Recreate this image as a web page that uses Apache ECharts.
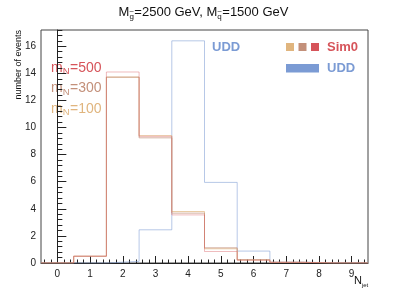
<!DOCTYPE html>
<html><head><meta charset="utf-8">
<script src="https://cdn.jsdelivr.net/npm/echarts@6/dist/echarts.min.js"></script>
<style>html,body{margin:0;padding:0;background:#fff}#c{width:409px;height:293px}</style>
</head><body><div id="c"></div>
<script>
// bin centres (N_jet)
var binCenters = [0, 1, 2, 3, 4, 5, 6, 7, 8, 9];
var xTickLabels = ['0','1','2','3','4','5','6','7','8','9'];
var yTickLabels = ['0','2','4','6','8','10','12','14','16'];
// Sim0 samples
var sim0_m500 = [0, 0.5, 14.1, 9.35, 3.55, 0.85, 0.2, 0.05, 0, 0];
var sim0_m300 = [0, 0.5, 13.72, 9.24, 3.68, 1.12, 0.25, 0.05, 0, 0];
var sim0_m100 = [0, 0.5, 13.72, 9.4, 3.8, 1.05, 0.22, 0.05, 0, 0];
// UDD sample
var udd = [0, 0, 0.12, 2.45, 16.4, 5.95, 0.88, 0.06, 0.02, 0];

var binWidth = 1;
function toSteps(vals) {
  var pts = [];
  for (var i = 0; i < vals.length; i++) pts.push([binCenters[i] - binWidth / 2, vals[i]]);
  pts.push([binCenters[vals.length - 1] + binWidth / 2, vals[vals.length - 1]]);
  return pts;
}
function range(a, b, s) { var r = []; for (var v = a; v <= b + 1e-9; v += s) r.push(Math.round(v * 1000) / 1000); return r; }

var colRed = '#d6545a', colBrown = '#c3907a', colTan = '#e0b57e', colBlue = '#7b9bd4';
var fontF = '"Liberation Sans", Arial, Helvetica, sans-serif';

var mctx = document.createElement('canvas').getContext('2d');
function measure(t, size, weight) { mctx.font = (weight || 'normal') + ' ' + size + 'px ' + fontF; return mctx.measureText(t).width; }
// segments: [text, isSub, tilde]
function richLabel(segs, x, yMid, size, subSize, color, weight, centered, subOff) {
  var total = 0, ws = [];
  segs.forEach(function (s) { var w = measure(s[0], s[1] ? subSize : size, weight); ws.push(w); total += w; });
  var cx = centered ? x - total / 2 : x;
  var out = [];
  segs.forEach(function (s, i) {
    var fs = s[1] ? subSize : size;
    var yy = s[1] ? yMid + subOff : yMid;
    out.push({type: 'text', x: cx, y: yy, style: {text: s[0], fontSize: fs, fontWeight: weight || 'normal', fontFamily: fontF, fill: color, verticalAlign: 'middle'}});
    if (s[2]) out.push({type: 'text', x: cx + ws[i] / 2, y: yy - fs * 0.62, style: {text: '~', fontSize: fs, fontFamily: fontF, fill: color, align: 'center', verticalAlign: 'middle'}});
    cx += ws[i] + (s[1] ? 0.5 : 0);
  });
  return out;
}

var chart = echarts.init(document.getElementById('c'), null, {renderer: 'canvas'});
var xMin = -0.5, xMax = 9.5, yMin = 0, yMax = 17.2;
var baseX = {type: 'value', min: xMin, max: xMax, position: 'bottom', splitLine: {show: false}};
var baseY = {type: 'value', min: yMin, max: yMax, position: 'left', splitLine: {show: false}};

var graphics = [];
graphics = graphics.concat(richLabel([['M'], ['g', true, true], ['=2500 GeV, M'], ['q', true, true], ['=1500 GeV']], 203, 12, 13, 8, '#111', 'normal', true, 5));
graphics.push({type: 'text', x: 14, y: 30, rotation: Math.PI / 2, style: {text: 'number of events', fontSize: 9, fontFamily: fontF, fill: '#111', align: 'right', verticalAlign: 'top'}});
graphics = graphics.concat(richLabel([['N'], ['jet', true]], 354, 281, 11, 6, '#111', 'normal', false, 4.5));
graphics = graphics.concat(richLabel([['m'], ['N', true], ['=500']], 51, 68, 14, 9.5, colRed, 'normal', false, 3.5));
graphics = graphics.concat(richLabel([['m'], ['N', true], ['=300']], 51, 88.5, 14, 9.5, colBrown, 'normal', false, 3.5));
graphics = graphics.concat(richLabel([['m'], ['N', true], ['=100']], 51, 109, 14, 9.5, colTan, 'normal', false, 3.5));
graphics.push(
  {type: 'text', x: 212, y: 47.5, style: {text: 'UDD', fontSize: 13, fontWeight: 'bold', fontFamily: fontF, fill: colBlue, verticalAlign: 'middle'}},
  {type: 'rect', shape: {x: 286, y: 43, width: 8, height: 8}, style: {fill: colTan}},
  {type: 'rect', shape: {x: 298.5, y: 43, width: 8, height: 8}, style: {fill: colBrown}},
  {type: 'rect', shape: {x: 311, y: 43, width: 8, height: 8}, style: {fill: colRed}},
  {type: 'text', x: 327, y: 47.5, style: {text: 'Sim0', fontSize: 13, fontWeight: 'bold', fontFamily: fontF, fill: colRed, verticalAlign: 'middle'}},
  {type: 'rect', shape: {x: 286, y: 64, width: 33, height: 8.5}, style: {fill: colBlue}},
  {type: 'text', x: 327, y: 68.5, style: {text: 'UDD', fontSize: 13, fontWeight: 'bold', fontFamily: fontF, fill: colBlue, verticalAlign: 'middle'}}
);

chart.setOption({
  animation: false,
  grid: {left: 41, right: 41, top: 30, bottom: 30, show: true, borderColor: '#444', borderWidth: 1, backgroundColor: 'transparent'},
  xAxis: [
    Object.assign({}, baseX, {
      axisLine: {show: true, lineStyle: {color: '#222', width: 1}},
      axisTick: {show: true, inside: true, length: 7, customValues: binCenters, lineStyle: {color: '#222'}},
      axisLabel: {show: true, customValues: binCenters, formatter: function (v) { return xTickLabels[binCenters.indexOf(Math.round(v))]; }, fontFamily: fontF, fontSize: 10, color: '#222', margin: 6}
    }),
    Object.assign({}, baseX, {
      axisLine: {show: false},
      axisTick: {show: true, inside: true, length: 3.5, customValues: range(-0.4, 9.4, 0.2), lineStyle: {color: '#222'}},
      axisLabel: {show: false}
    })
  ],
  yAxis: [
    Object.assign({}, baseY, {
      axisLine: {show: true, lineStyle: {color: '#222', width: 1}},
      axisTick: {show: true, inside: true, length: 9, customValues: range(0, 16, 2), lineStyle: {color: '#222'}},
      axisLabel: {show: true, customValues: range(0, 16, 2), formatter: function (v) { return yTickLabels[Math.round(v / 2)]; }, fontFamily: fontF, fontSize: 10, color: '#222', margin: 5}
    }),
    Object.assign({}, baseY, {
      axisLine: {show: false},
      axisTick: {show: true, inside: true, length: 5, customValues: range(0, 17.2, 0.4), lineStyle: {color: '#222'}},
      axisLabel: {show: false}
    })
  ],
  series: [
    {type: 'line', step: 'end', data: toSteps(udd), symbol: 'none', lineStyle: {color: colBlue, width: 1, opacity: 0.55}, z: 2},
    {type: 'line', step: 'end', data: toSteps(sim0_m100), symbol: 'none', lineStyle: {color: colTan, width: 1, opacity: 0.7}, z: 3},
    {type: 'line', step: 'end', data: toSteps(sim0_m300), symbol: 'none', lineStyle: {color: colBrown, width: 1, opacity: 0.7}, z: 3},
    {type: 'line', step: 'end', data: toSteps(sim0_m500), symbol: 'none', lineStyle: {color: colRed, width: 1, opacity: 0.4}, z: 3}
  ],
  graphic: graphics
});
</script></body></html>
